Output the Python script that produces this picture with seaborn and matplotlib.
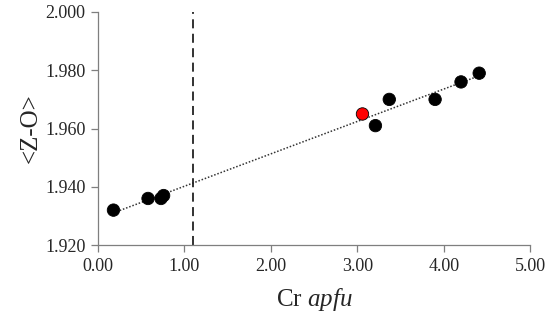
import numpy as np
import pandas as pd
import matplotlib
matplotlib.use("Agg")
import matplotlib.pyplot as plt
import seaborn as sns

# data
cr_apfu = [0.18, 0.58, 0.73, 0.76, 3.06, 3.21, 3.37, 3.90, 4.20, 4.41]
z_o = [1.932, 1.936, 1.936, 1.937, 1.965, 1.961, 1.970, 1.970, 1.976, 1.979]
group = ["black", "black", "black", "black", "red", "black", "black", "black", "black", "black"]
cutoff_x = 1.10

x_ticks = [0, 1, 2, 3, 4, 5]
y_ticks = [1.920, 1.940, 1.960, 1.980, 2.000]

df = pd.DataFrame({"cr": cr_apfu, "zo": z_o, "group": group})

sns.set_style("white")
plt.rcParams["font.family"] = ["Liberation Serif", "DejaVu Serif"]
plt.rcParams["mathtext.fontset"] = "custom"
plt.rcParams["mathtext.rm"] = "Liberation Serif"
plt.rcParams["mathtext.it"] = "Liberation Serif:italic"

fig = plt.figure(figsize=(5.5, 3.33), dpi=100)
ax = fig.add_axes([0.178, 0.264, 0.786, 0.700])

# linear trend line over the data range
slope, intercept = np.polyfit(df["cr"], df["zo"], 1)
xs = np.array([df["cr"].min(), df["cr"].max()])
ax.plot(xs, slope * xs + intercept, linestyle=(0, (1, 1.2)), color="#333333", lw=1.1, zorder=1)

ax.axvline(cutoff_x, color="#222222", linestyle=(0, (5, 3)), lw=1.3, zorder=1)

sns.scatterplot(data=df, x="cr", y="zo", hue="group",
                palette={"black": "black", "red": "#ff0000"},
                s=80, edgecolor="black", linewidth=0.6, legend=False, ax=ax, zorder=3)

ax.set_xlim(0, 5)
ax.set_ylim(1.92, 2.0)
ax.set_xticks(x_ticks)
ax.set_xticklabels([f"{v:.2f}" for v in x_ticks])
ax.set_yticks(y_ticks)
ax.set_yticklabels([f"{v:.3f}" for v in y_ticks])
ax.tick_params(axis="both", direction="out", length=5, width=0.9, color="#7f7f7f",
               labelsize=13, bottom=True, left=True, pad=4)

for side in ["top", "right"]:
    ax.spines[side].set_visible(False)
for side in ["left", "bottom"]:
    ax.spines[side].set_color("#7f7f7f")
    ax.spines[side].set_linewidth(0.9)

ax.set_xlabel("Cr $\\mathit{apfu}$", fontsize=18, labelpad=8)
ax.set_ylabel("<Z-O>", fontsize=18, labelpad=2)

fig.savefig("out.png", dpi=100)
